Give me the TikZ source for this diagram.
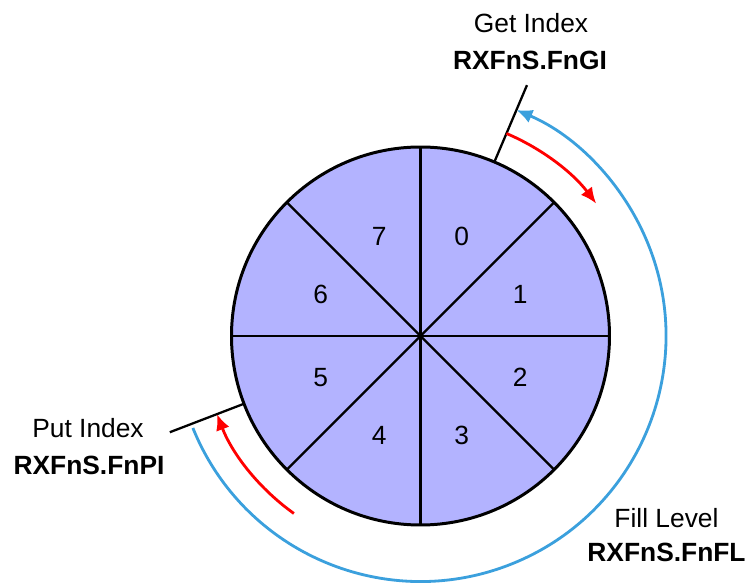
\documentclass[tikz,border=0pt]{standalone}
\usepackage{fontspec}
\setmainfont{Liberation Sans}
\usetikzlibrary{arrows.meta}
\definecolor{slotfill}{RGB}{179,179,255}
\definecolor{levelblue}{RGB}{59,160,221}

\begin{document}
\begin{tikzpicture}[
  every node/.style={font=\fontsize{15}{18}\selectfont, align=center, inner sep=0pt},
  slot/.style={draw=black, line width=1.3pt},
  marker/.style={draw=black, line width=1.3pt},
  move/.style={draw=red, line width=1.6pt, -{Latex[length=3.2mm, width=2.8mm]}},
  level/.style={draw=levelblue, line width=1.6pt, -{Latex[length=3.2mm, width=2.8mm]}},
  regname/.style={font=\fontsize{15}{18}\selectfont\bfseries}
]
\useasboundingbox (-8.41,-4.94) rectangle (6.51,6.72);
\coordinate (c) at (0,0);
% ring buffer slots
\fill[slotfill] (c) circle (3.78);
\foreach \a in {0,45,...,315}
  \draw[slot] (c) -- (\a:3.78);
\draw[black, line width=1.7pt] (c) circle (3.78);
\foreach \i in {0,...,7}
  \node (s\i) at ({67.5-45*\i}:2.16) {\i};
% index markers
\coordinate (gi0) at (67:3.78);
\coordinate (gi1) at (67:5.45);
\coordinate (pi0) at (201:3.78);
\coordinate (pi1) at (201:5.37);
\draw[marker] (gi0) -- (gi1);
\draw[marker] (pi0) -- (pi1);
% movement arrows
\draw[move] (67:4.4) arc[start angle=67, end angle=37, radius=4.4];
\draw[move] (234.5:4.36) arc[start angle=234.5, end angle=201, radius=4.36];
\draw[level] (-158:4.91) arc[start angle=-158, end angle=67, radius=4.91];
% labels
\node (gitext) at (2.21,6.26) {Get Index};
\node[regname] (giname) at (2.19,5.52) {RXFnS.FnGI};
\node (pitext) at (-6.65,-1.84) {Put Index};
\node[regname] (piname) at (-6.63,-2.58) {RXFnS.FnPI};
\node (fltext) at (4.92,-3.64) {Fill Level};
\node[regname] (flname) at (4.92,-4.32) {RXFnS.FnFL};
\end{tikzpicture}
\end{document}
